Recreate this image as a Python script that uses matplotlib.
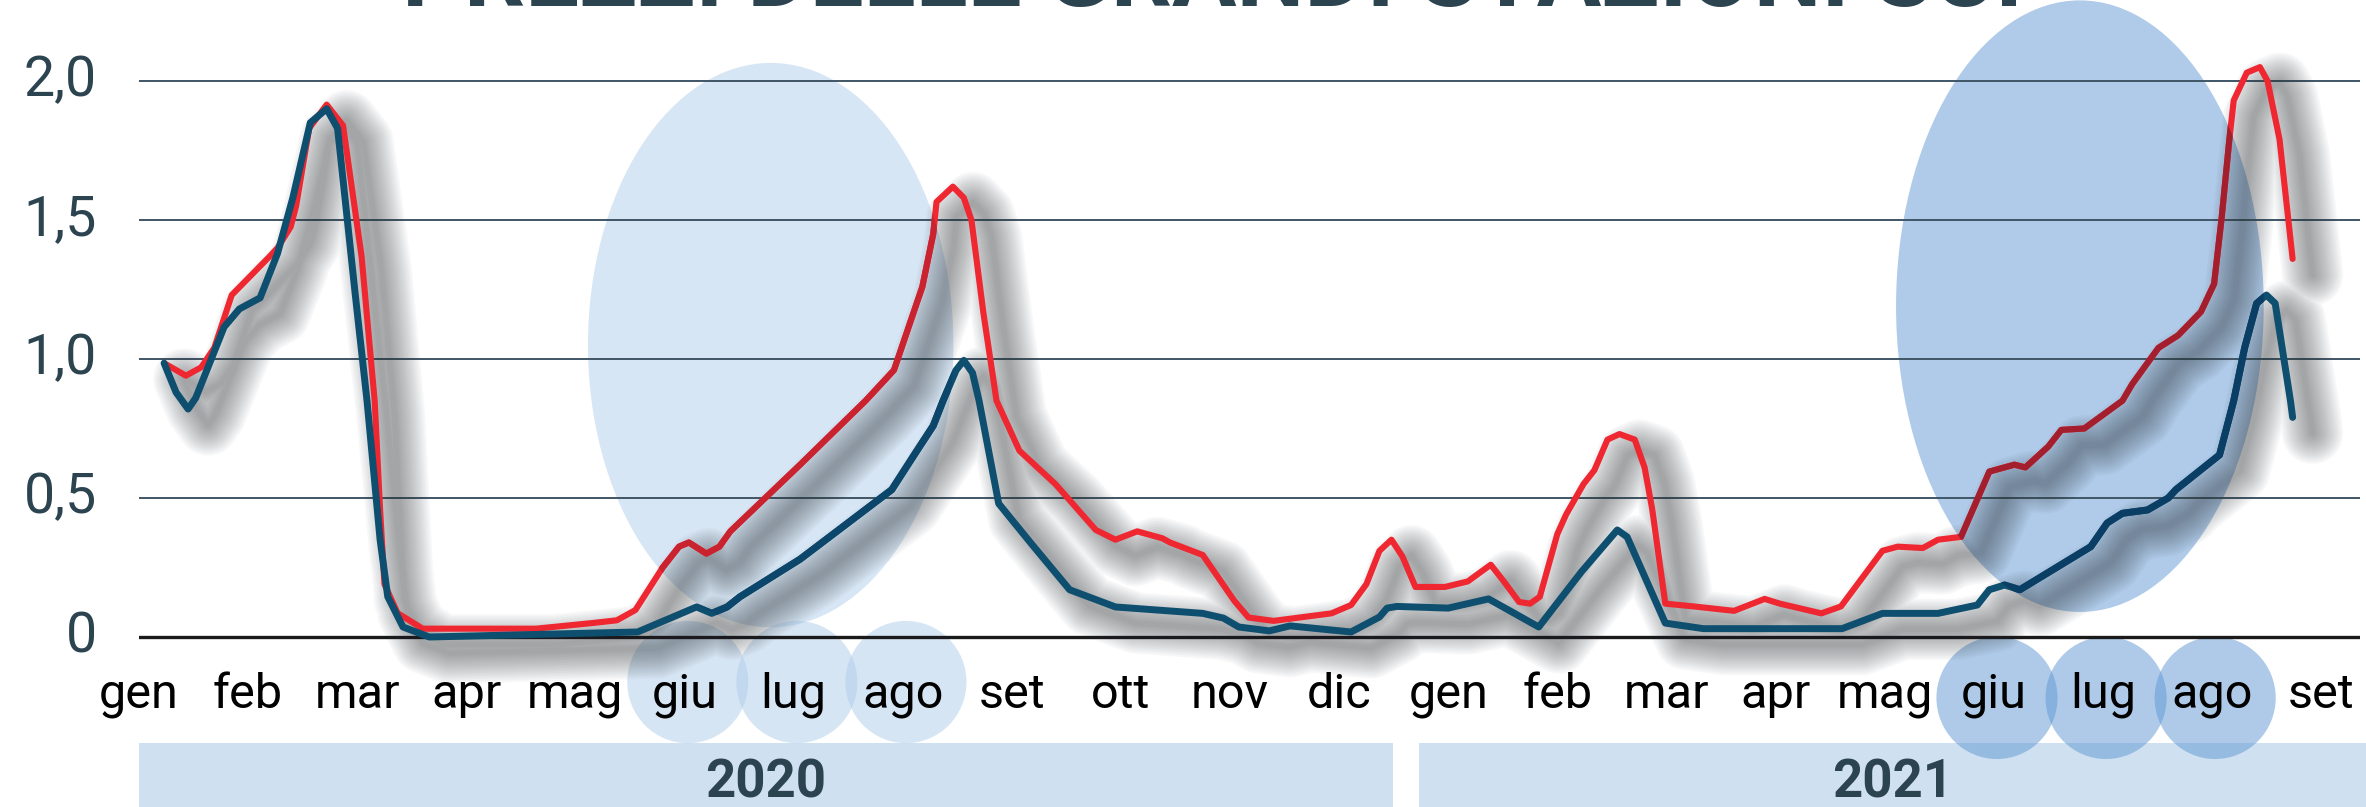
"""Prezzi delle grandi stazioni sci, gen 2020 - set 2021.

Two monthly series (red, dark blue) with soft drop shadows; the summer months
of both years are highlighted with translucent ellipses.

Saves out.png (2366x807).
"""

import matplotlib

matplotlib.use("Agg")
import matplotlib.pyplot as plt
import matplotlib.transforms as mtransforms
import numpy as np
from matplotlib.colors import to_rgb
from matplotlib.patches import Ellipse, Rectangle

TITLE = "PREZZI DELLE GRANDI STAZIONI SCI"

MONTHS = ["gen", "feb", "mar", "apr", "mag", "giu", "lug", "ago", "set", "ott",
          "nov", "dic", "gen", "feb", "mar", "apr", "mag", "giu", "lug", "ago",
          "set"]
YEARS = ["2020", "2021"]
Y_TICKS = [0, 0.5, 1.0, 1.5, 2.0]
Y_LABELS = ["0", "0,5", "1,0", "1,5", "2,0"]

# x = months since gen 2020 (label sits on the integer)
RED_X = [0.23, 0.43, 0.57, 0.69, 0.85, 1.20, 1.27, 1.39, 1.44, 1.56, 1.72,
         1.87, 2.04, 2.16, 2.21, 2.25, 2.37, 2.60, 3.64, 4.15, 4.38, 4.55,
         4.80, 4.95, 5.04, 5.20, 5.32, 5.42, 6.06, 6.66, 6.92, 7.18, 7.28,
         7.31, 7.46, 7.56, 7.63, 7.74, 7.86, 8.07, 8.40, 8.77, 8.95, 9.15,
         9.38, 9.45, 9.75, 10.04, 10.17, 10.40, 10.93, 11.11, 11.25, 11.37,
         11.48, 11.58, 11.70, 11.97, 12.18, 12.39, 12.51, 12.65, 12.75, 12.84,
         13.00, 13.08, 13.24, 13.34, 13.46, 13.57, 13.71, 13.80, 13.87, 13.99,
         14.25, 14.62, 14.90, 15.04, 15.42, 15.60, 15.98, 16.12, 16.35, 16.49,
         16.70, 16.96, 17.19, 17.29, 17.50, 17.62, 17.83, 18.18, 18.27, 18.51,
         18.69, 18.90, 19.02, 19.09, 19.16, 19.20, 19.32, 19.44, 19.51, 19.62,
         19.74]
RED_Y = [0.985, 0.94, 0.97, 1.04, 1.23, 1.37, 1.40, 1.475, 1.55, 1.83, 1.915,
         1.84, 1.37, 0.85, 0.457, 0.19, 0.086, 0.03, 0.03, 0.05, 0.06, 0.097,
         0.25, 0.325, 0.34, 0.30, 0.325, 0.38, 0.62, 0.85, 0.96, 1.26, 1.45,
         1.565, 1.62, 1.58, 1.50, 1.165, 0.85, 0.67, 0.55, 0.385, 0.35, 0.38,
         0.355, 0.34, 0.295, 0.13, 0.07, 0.058, 0.085, 0.115, 0.19, 0.31,
         0.35, 0.29, 0.18, 0.18, 0.20, 0.26, 0.20, 0.126, 0.12, 0.145,
         0.37, 0.44, 0.55, 0.60, 0.71, 0.73, 0.71, 0.61, 0.46, 0.12,
         0.11, 0.094, 0.137, 0.12, 0.085, 0.11, 0.31, 0.325, 0.32, 0.35,
         0.36, 0.595, 0.62, 0.61, 0.685, 0.745, 0.75, 0.85, 0.91, 1.04,
         1.085, 1.17, 1.27, 1.51, 1.79, 1.93, 2.03, 2.05, 2.00, 1.79,
         1.36]

BLUE_X = [0.23, 0.34, 0.45, 0.52, 0.78, 0.92, 1.11, 1.27, 1.41, 1.57, 1.72,
          1.82, 1.98, 2.09, 2.21, 2.28, 2.42, 2.66, 4.57, 5.11, 5.25, 5.39,
          5.51, 6.06, 6.90, 7.13, 7.28, 7.37, 7.49, 7.56, 7.64, 7.70, 7.88,
          8.17, 8.53, 8.95, 9.75, 9.94, 10.08, 10.36, 10.55, 11.11, 11.37,
          11.44, 11.53, 12.00, 12.37, 12.83, 13.22, 13.55, 13.64, 13.99, 14.34,
          15.61, 15.98, 16.49, 16.85, 16.96, 17.10, 17.24, 17.89, 18.04, 18.18,
          18.41, 18.60, 18.67, 19.07, 19.20, 19.30, 19.41, 19.50, 19.58, 19.72,
          19.74]
BLUE_Y = [0.985, 0.88, 0.82, 0.86, 1.115, 1.18, 1.22, 1.38, 1.58, 1.85, 1.90,
          1.83, 1.24, 0.85, 0.35, 0.145, 0.036, 0.0, 0.018, 0.108, 0.085, 0.108,
          0.145, 0.28, 0.53, 0.67, 0.76, 0.85, 0.96, 0.995, 0.95, 0.85, 0.48,
          0.34, 0.17, 0.108, 0.085, 0.068, 0.036, 0.022, 0.04, 0.018, 0.072,
          0.104, 0.11, 0.104, 0.137, 0.036, 0.234, 0.385, 0.36, 0.05, 0.03,
          0.03, 0.085, 0.085, 0.115, 0.17, 0.187, 0.17, 0.325, 0.41, 0.445,
          0.457, 0.50, 0.53, 0.655, 0.85, 1.04, 1.20, 1.23, 1.20, 0.85,
          0.79]

W, H, DPI = 2366, 807, 100
RED = "#ee2731"
BLUE = "#0e4e6e"
INK = "#2c4350"
GRID = "#3f5666"
BAND = "#cfe0f1"
PALE = "#d7e6f5"
MID = "#afcbe9"


def multiply(c1, c2):
    return tuple(a * b for a, b in zip(to_rgb(c1), to_rgb(c2)))


def add_shadow(ax, xs, ys):
    """Fake a blurred drop shadow by stacking faint strokes of growing width."""
    offset = mtransforms.ScaledTranslation(0.20, -0.16, ax.figure.dpi_scale_trans)
    for lw in np.linspace(44, 4, 15):
        ax.plot(xs, ys, color="#30363a", alpha=0.035, lw=lw,
                transform=ax.transData + offset,
                solid_joinstyle="round", solid_capstyle="round", zorder=2)


def main():
    fig = plt.figure(figsize=(W / DPI, H / DPI), dpi=DPI)
    fig.patch.set_facecolor("white")
    # 0 sits at y=637px, 0.5 every 139px; one month every 109.1px from x=139
    ax = fig.add_axes([139 / W, 0, (2360 - 139) / W, 1])
    ax.set_xlim(0, (2360 - 139) / 109.1)
    ax.set_ylim((637 - H) / 278, 637 / 278)
    ax.axis("off")

    # year bands
    v_band = (637 - 743) / 278
    y_bot = ax.get_ylim()[0]
    for x0, x1, label in ((0, 11.49, YEARS[0]), (11.73, 20.45, YEARS[1])):
        ax.add_patch(Rectangle((x0, y_bot), x1 - x0, v_band - y_bot,
                               color=BAND, lw=0, zorder=0.5, clip_on=False))
        ax.text((x0 + min(x1, 20.41)) / 2, -0.579, label, ha="center",
                va="baseline", fontsize=38, fontweight="bold", color=INK,
                family="Roboto", zorder=5)

    # summer highlights
    big = [Ellipse((5.79, 1.05), 3.35, 2.03, color=PALE, lw=0, zorder=1),
           Ellipse((17.79, 1.19), 3.37, 2.20, color=MID, lw=0, zorder=1)]
    for e in big:
        ax.add_patch(e)
    for months, vc, base in (((5, 6, 7), -0.162, PALE), ((17, 18, 19), -0.219, MID)):
        col = tuple(2 * c - 1 for c in to_rgb(base))
        for m in months:
            ax.add_patch(Ellipse((m + 0.03, vc), 1.11, 0.44, color=col,
                                 alpha=0.5, lw=0, zorder=1.2))

    for v in Y_TICKS[1:]:
        ax.axhline(v, color=GRID, lw=1.4, zorder=1.8)
    ax.axhline(0, color="#1a1a1a", lw=2.4, zorder=1.8)

    # one combined path so the two shadows don't stack where lines meet
    add_shadow(ax, np.r_[RED_X, np.nan, BLUE_X], np.r_[RED_Y, np.nan, BLUE_Y])

    series = ((RED_X, RED_Y, RED, 4.4), (BLUE_X, BLUE_Y, BLUE, 5.0))
    for xs, ys, c, lw in series:
        ax.plot(xs, ys, color=c, lw=lw, solid_joinstyle="round",
                solid_capstyle="round", zorder=3)
    # lines seen through the ellipses look darker (multiply blend)
    for e in big:
        for xs, ys, c, lw in series:
            ln, = ax.plot(xs, ys, color=multiply(c, e.get_facecolor()), lw=lw,
                          solid_joinstyle="round", solid_capstyle="round",
                          zorder=4)
            ln.set_clip_path(e)

    for v, lab in zip(Y_TICKS, Y_LABELS):
        ax.text(-0.385, v, lab, ha="right", va="center", fontsize=40,
                color=INK, family="Roboto")
    for i, m in enumerate(MONTHS):
        ax.text(i, -0.255, m, ha="center", va="baseline", fontsize=35,
                color="black", family="Roboto", zorder=5)

    # title is mostly cut off by the top edge, as in the source
    title = fig.text(402 / W, 1 - 6 / H, TITLE, ha="left", va="baseline",
                     fontsize=50, fontweight="bold", color=INK, family="Roboto")
    fig.canvas.draw()
    width = title.get_window_extent().width
    title.set_fontsize(50 * 1620 / width)

    fig.savefig("out.png", dpi=DPI)


if __name__ == "__main__":
    main()
